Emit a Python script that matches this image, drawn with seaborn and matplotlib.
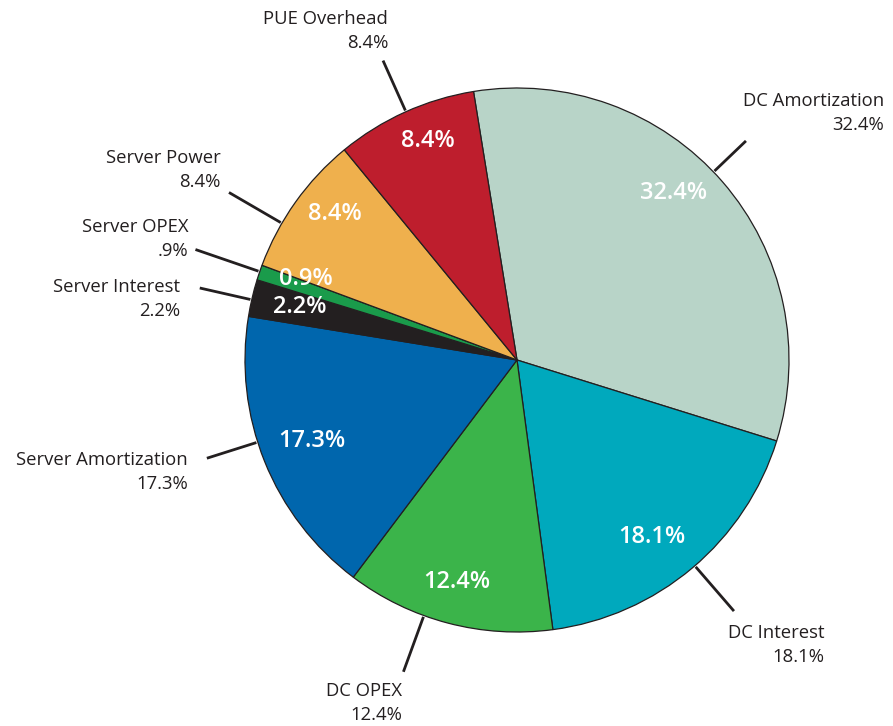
import numpy as np
import matplotlib
matplotlib.use("Agg")
import matplotlib.pyplot as plt
import seaborn as sns

# Cost breakdown shares (percent), listed clockwise from the top
categories = ["DC Amortization", "DC Interest", "DC OPEX", "Server Amortization",
              "Server Interest", "Server OPEX", "Server Power", "PUE Overhead"]
shares = [32.4, 18.1, 12.4, 17.3, 2.2, 0.9, 8.4, 8.4]
colors = ["#b8d4c8", "#00a9bd", "#3bb44a", "#0066ad",
          "#231f20", "#1a9b4b", "#efb04d", "#be1e2d"]

# Layout tweaks: angular nudges (deg) for leader lines and inner labels
leader_nudge = [2.8, 0.7, -5.3, -4.3, 0.4, -0.2, 5.3, -0.2]
leader_len = [1.165, 1.22, 1.22, 1.196, 1.196, 1.25, 1.225, 1.206]
inner_nudge = [5.8, -2.8, -0.5, -0.4, -0.5, -2.3, -3.2, -2.3]
inner_rad = [0.842, 0.82, 0.846, 0.81, 0.822, 0.83, 0.86, 0.87]
# outer label anchors in pixels (right edge, vertical centre)
outer_px = [(884, 113), (824, 645), (402, 703), (188, 472),
            (180, 299), (188, 239), (221, 170), (388, 31)]

W, H = 893, 726
CX, CY, R = 517, 360, 272


def px2d(px, py):
    return (px - CX) / R, (CY - py) / R


sns.set_theme(style="white")
plt.rcParams["font.family"] = ["Open Sans", "DejaVu Sans"]
ink = "#231f20"

fig = plt.figure(figsize=(W / 100, H / 100), dpi=100)
ax = fig.add_axes([0, 0, 1, 1])
palette = sns.color_palette(colors)

wedges, _ = ax.pie(shares, colors=palette, startangle=99.2, counterclock=False,
                   wedgeprops=dict(edgecolor=ink, linewidth=0.9))

for i, w in enumerate(wedges):
    mid = 0.5 * (w.theta1 + w.theta2)
    # value inside the slice
    a = np.deg2rad(mid + inner_nudge[i])
    ax.text(inner_rad[i] * np.cos(a), inner_rad[i] * np.sin(a), f"{shares[i]:.1f}%",
            color="white", fontsize=17, fontweight="semibold", ha="center", va="center")
    # leader line
    b = np.deg2rad(mid + leader_nudge[i])
    ax.plot([1.005 * np.cos(b), leader_len[i] * np.cos(b)],
            [1.005 * np.sin(b), leader_len[i] * np.sin(b)],
            color=ink, lw=2.0, solid_capstyle="butt")
    # outer label
    pct = f"{shares[i]:.1f}%".lstrip("0")
    tx, ty = px2d(*outer_px[i])
    ax.text(tx, ty, f"{categories[i]}\n{pct}", color=ink, fontsize=13.3,
            ha="right", va="center", multialignment="right", linespacing=1.42)

ax.set_xlim(-CX / R, (W - CX) / R)
ax.set_ylim(-(H - CY) / R, CY / R)
ax.set_aspect("auto")
ax.axis("off")

fig.savefig("out.png", dpi=100)
